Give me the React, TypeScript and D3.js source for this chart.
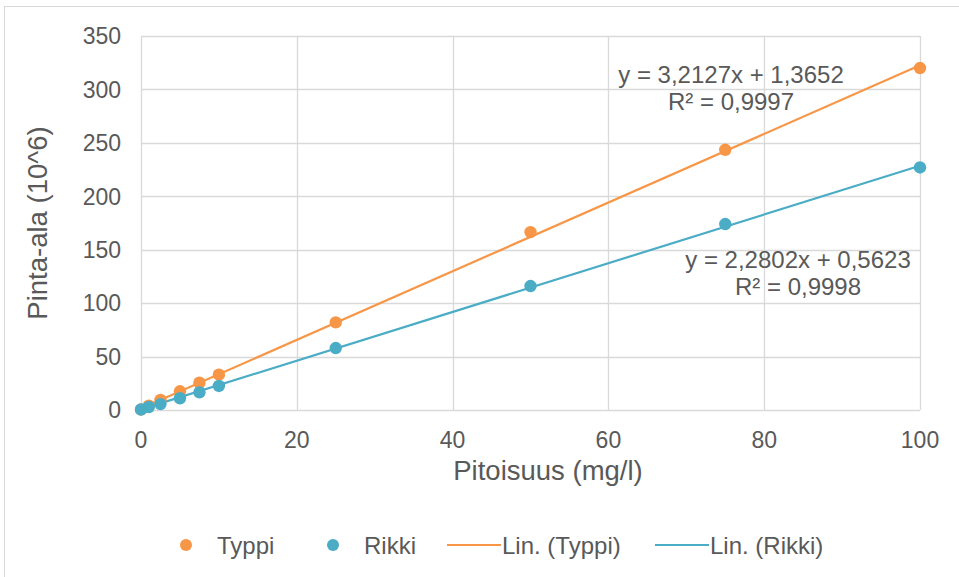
import React from "react";
import * as d3 from "d3";

const concentrations = [0, 1, 2.5, 5, 7.5, 10, 25, 50, 75, 100];
const typpiValues = [0.5, 4, 9.5, 17.5, 25.5, 33, 82, 166.5, 243.5, 320];
const rikkiValues = [0.4, 2.8, 5.5, 11, 16.5, 22.5, 58, 116, 174, 227];
const xTicks = [0, 20, 40, 60, 80, 100];
const yTicks = [0, 50, 100, 150, 200, 250, 300, 350];
const trendSlopes = [3.2127, 2.2802];
const trendIntercepts = [1.3652, 0.5623];
const eqLabels = ["y = 3,2127x + 1,3652", "y = 2,2802x + 0,5623"];
const r2Labels = ["R² = 0,9997", "R² = 0,9998"];

const W = 959;
const H = 577;
const ORANGE = "#F79646";
const BLUE = "#4BACC6";
const TEXT = "#595959";
const GRID = "#d9d9d9";
const FONT = "'Liberation Sans', Arial, sans-serif";

export default function App() {
  const x = d3.scaleLinear().domain([0, 100]).range([141, 920]);
  const y = d3.scaleLinear().domain([0, 350]).range([410, 36]);
  const series = [
    { name: "Typpi", values: typpiValues, color: ORANGE },
    { name: "Rikki", values: rikkiValues, color: BLUE },
  ];

  const eqPos = [
    { cx: 731, y1: 83, y2: 110 },
    { cx: 798, y1: 268, y2: 295 },
  ];

  return (
    <svg
      width={W}
      height={H}
      style={{ position: "absolute", left: 0, top: 0, background: "#fff" }}
      fontFamily={FONT}
    >
      <rect x={0} y={0} width={W} height={H} fill="#fff" />
      <rect x={4.5} y={6.5} width={W + 10} height={H + 10} fill="#fff" stroke={GRID} />
      {/* gridlines */}
      {yTicks.map((t) => (
        <line key={"gy" + t} x1={x(0)} x2={x(100)} y1={Math.round(y(t)) + 0.5} y2={Math.round(y(t)) + 0.5} stroke={GRID} strokeWidth={1.3} />
      ))}
      {xTicks.map((t) => (
        <line key={"gx" + t} x1={Math.round(x(t)) + 0.5} x2={Math.round(x(t)) + 0.5} y1={y(0)} y2={y(350)} stroke={GRID} strokeWidth={1.3} />
      ))}
      {/* tick labels */}
      {yTicks.map((t) => (
        <text key={"ty" + t} x={121} y={y(t)} dy="0.36em" textAnchor="end" fontSize={23} fill={TEXT}>
          {t}
        </text>
      ))}
      {xTicks.map((t) => (
        <text key={"tx" + t} x={x(t)} y={448} textAnchor="middle" fontSize={23} fill={TEXT}>
          {t}
        </text>
      ))}
      {/* axis titles */}
      <text x={548} y={480} textAnchor="middle" fontSize={27.5} fill={TEXT}>
        Pitoisuus (mg/l)
      </text>
      <text transform={`translate(47,223) rotate(-90)`} textAnchor="middle" fontSize={27.5} fill={TEXT}>
        Pinta-ala (10^6)
      </text>
      {/* trendlines */}
      {series.map((s, i) => {
        const pts: [number, number][] = [0, 100].map((v) => [x(v), y(trendSlopes[i] * v + trendIntercepts[i])]);
        return (
          <path
            key={"tl" + i}
            d={d3.line()(pts) || ""}
            fill="none"
            stroke={s.color}
            strokeWidth={2.2}
          />
        );
      })}
      {/* points */}
      {series.map((s) =>
        s.values.map((v, j) => (
          <circle key={s.name + j} cx={x(concentrations[j])} cy={y(v)} r={6.2} fill={s.color} />
        ))
      )}
      {/* equations */}
      {eqPos.map((p, i) => (
        <g key={"eq" + i} fontSize={24} fill={TEXT} textAnchor="middle">
          <text x={p.cx} y={p.y1}>{eqLabels[i]}</text>
          <text x={p.cx} y={p.y2}>{r2Labels[i]}</text>
        </g>
      ))}
      {/* legend */}
      <g fontSize={24} fill={TEXT}>
        <circle cx={186} cy={545} r={6} fill={ORANGE} />
        <text x={217} y={545} dy="0.36em">Typpi</text>
        <circle cx={333} cy={545} r={6} fill={BLUE} />
        <text x={364} y={545} dy="0.36em">Rikki</text>
        <line x1={447} x2={501} y1={545} y2={545} stroke={ORANGE} strokeWidth={2.2} />
        <text x={502} y={545} dy="0.36em">Lin. (Typpi)</text>
        <line x1={655} x2={709} y1={545} y2={545} stroke={BLUE} strokeWidth={2.2} />
        <text x={710} y={545} dy="0.36em">Lin. (Rikki)</text>
      </g>
    </svg>
  );
}
